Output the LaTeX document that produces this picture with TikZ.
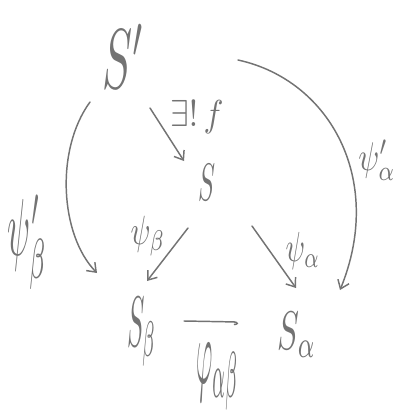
\documentclass[tikz,border=0pt]{standalone}
\usepackage{amssymb}
\usetikzlibrary{arrows.meta}
\definecolor{pencil}{RGB}{115,115,115}
\tikzset{
  pen/.style={draw=pencil, line width=1.1pt, line cap=round},
  arr/.style={pen, -{Straight Barb[length=6pt,width=9pt]}},
  lbl/.style={text=pencil, inner sep=0pt},
}
\newcommand{\rs}[3]{\resizebox*{#1pt}{#2pt}{$#3$}}
\begin{document}
\begin{tikzpicture}[x=0.75pt,y=-0.75pt]
\useasboundingbox (0,0) rectangle (398,410);
% objects
\node[lbl] (Sp) at (124,56) {\rs{32}{48}{S'}};
\node[lbl] (S) at (207,182) {\rs{12.75}{27}{S}};
\node[lbl] (Sb) at (142,332) {\rs{22.5}{52}{S_\beta}};
\node[lbl] (Sa) at (297,335) {\rs{29}{34}{S_\alpha}};
% anchor coordinates
\coordinate (f0) at (150,108);
\coordinate (f1) at (184,161);
\coordinate (b0) at (188,228);
\coordinate (b1) at (147,281);
\coordinate (a0) at (252,226);
\coordinate (a1) at (296,288);
\coordinate (pb0) at (90,102);
\coordinate (pb1) at (97,273);
\coordinate (pa0) at (238,60);
\coordinate (pa1) at (340,290);
\coordinate (h0) at (184,321);
\coordinate (h1) at (238,322);
% arrows
\draw[arr] (f0) -- (f1);
\draw[arr] (b0) -- (b1);
\draw[arr] (a0) -- (a1);
\draw[arr] (pb0) .. controls (55,150) and (60,235) .. (pb1);
\draw[arr] (pa0) .. controls (330,80) and (385,180) .. (pa1);
\draw[pen, -{Hooks[right,length=3pt,width=5pt]}] (h0) -- (h1);
% labels
\node[lbl] (lf) at (197,117) {\rs{40}{25}{\exists!\,f}};
\node[lbl] (lb) at (148,236) {\rs{26}{30}{\psi_\beta}};
\node[lbl] (la) at (303,251) {\rs{26}{28}{\psi_\alpha}};
\node[lbl] (lpb) at (28,242) {\rs{30}{71}{\psi'_\beta}};
\node[lbl] (lpa) at (377,160) {\rs{28}{30}{\psi'_\alpha}};
\node[lbl] (lh) at (218,377) {\rs{32}{50}{\varphi_{\alpha\beta}}};
\end{tikzpicture}
\end{document}
